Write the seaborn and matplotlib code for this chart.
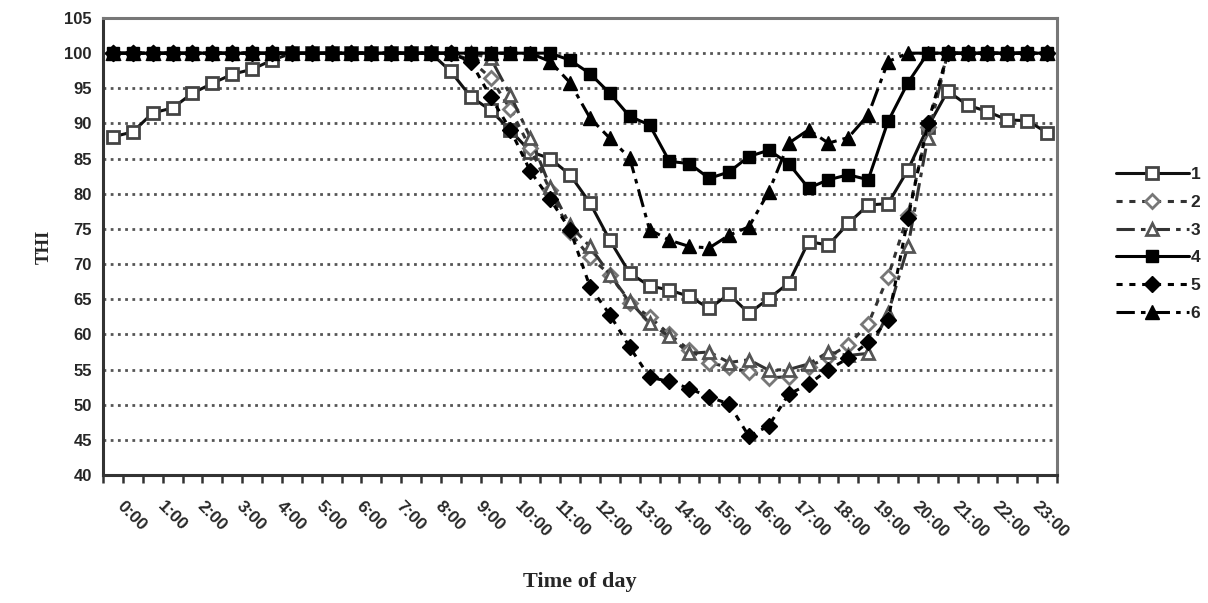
import numpy as np
import pandas as pd
import matplotlib
matplotlib.use("Agg")
import matplotlib.pyplot as plt
import matplotlib.transforms as mtransforms
from matplotlib.ticker import FixedLocator, NullFormatter
import seaborn as sns

# ---------------- data (half-hourly, 0:00 .. 23:30) ----------------
slots = [f"{h}:{m:02d}" for h in range(24) for m in (0, 30)]
hour_labels = [f"{h}:00" for h in range(24)]

s1 = [88.1, 88.8, 91.5, 92.2, 94.3, 95.7, 97.0, 97.7, 99.0, 100, 100, 100, 100, 100, 100, 100,
      100, 97.4, 93.8, 91.9, 89.0, 86.0, 85.0, 82.7, 78.7, 73.4, 68.7, 66.9, 66.3, 65.4, 63.7, 65.7,
      63.0, 65.1, 67.3, 73.2, 72.7, 75.8, 78.4, 78.6, 83.4, 89.5, 94.6, 92.6, 91.7, 90.5, 90.4, 88.7]
s2 = [100, 100, 100, 100, 100, 100, 100, 100, 100, 100, 100, 100, 100, 100, 100, 100,
      100, 100, 99.0, 96.5, 92.0, 86.5, 80.5, 74.5, 71.0, 68.5, 64.5, 62.5, 60.0, 57.8, 56.0, 55.3,
      54.7, 53.8, 54.0, 55.4, 56.8, 58.5, 61.5, 68.2, 77.0, 89.5, 100, 100, 100, 100, 100, 100]
s3 = [100, 100, 100, 100, 100, 100, 100, 100, 100, 100, 100, 100, 100, 100, 100, 100,
      100, 100, 100, 99.3, 94.0, 88.0, 81.0, 75.5, 72.5, 68.5, 64.7, 61.6, 59.7, 57.3, 57.5, 56.0,
      56.4, 54.9, 55.0, 55.8, 57.5, 57.0, 57.3, 63.0, 72.5, 88.0, 100, 100, 100, 100, 100, 100]
s4 = [100, 100, 100, 100, 100, 100, 100, 100, 100, 100, 100, 100, 100, 100, 100, 100,
      100, 100, 100, 100, 100, 100, 100, 99.0, 97.1, 94.3, 91.0, 89.8, 84.6, 84.3, 82.2, 83.1,
      85.3, 86.2, 84.3, 80.8, 82.0, 82.7, 82.0, 90.3, 95.8, 100, 100, 100, 100, 100, 100, 100]
s5 = [100, 100, 100, 100, 100, 100, 100, 100, 100, 100, 100, 100, 100, 100, 100, 100,
      100, 100, 98.8, 93.8, 89.1, 83.2, 79.2, 74.9, 66.8, 62.8, 58.2, 53.9, 53.3, 52.3, 51.1, 50.1,
      45.5, 47.0, 51.5, 52.9, 55.0, 56.6, 58.9, 62.0, 76.5, 90.0, 100, 100, 100, 100, 100, 100]
s6 = [100, 100, 100, 100, 100, 100, 100, 100, 100, 100, 100, 100, 100, 100, 100, 100,
      100, 100, 100, 100, 100, 100, 98.8, 95.8, 90.8, 87.9, 85.1, 74.9, 73.4, 72.5, 72.3, 74.1,
      75.3, 80.3, 87.2, 89.1, 87.2, 88.0, 91.2, 98.8, 100, 100, 100, 100, 100, 100, 100, 100]
series_names = ["1", "2", "3", "4", "5", "6"]
series_values = [s1, s2, s3, s4, s5, s6]

# ---------------- styling ----------------
sns.set_theme(style="white")
plt.rcParams["font.family"] = ["Liberation Sans", "DejaVu Sans"]

styles = {
    "1": dict(color="#111111", linestyle="-", marker="s", markersize=8.5,
              markerfacecolor="white", markeredgecolor="#444444", markeredgewidth=2.0),
    "2": dict(color="#333333", linestyle=(0, (2.0, 2.2)), marker="D", markersize=7,
              markerfacecolor="white", markeredgecolor="#777777", markeredgewidth=2.0),
    "3": dict(color="#333333", linestyle=(0, (6, 2, 1.5, 2)), marker="^", markersize=8.5,
              markerfacecolor="white", markeredgecolor="#555555", markeredgewidth=2.0),
    "4": dict(color="#000000", linestyle="-", marker="s", markersize=9,
              markerfacecolor="#000000", markeredgecolor="#000000", markeredgewidth=1.0),
    "5": dict(color="#000000", linestyle=(0, (2.0, 2.2)), marker="D", markersize=8,
              markerfacecolor="#000000", markeredgecolor="#000000", markeredgewidth=1.0),
    "6": dict(color="#000000", linestyle=(0, (6, 2, 1.5, 2)), marker="^", markersize=10,
              markerfacecolor="#000000", markeredgecolor="#000000", markeredgewidth=1.0),
}

fig = plt.figure(figsize=(12.08, 6.03), dpi=100)
ax = fig.add_axes([103 / 1208, 1 - 475 / 603, (1057 - 103) / 1208, (475 - 18) / 603])

idx = np.arange(len(slots))
for name, vals in zip(series_names, series_values):
    df = pd.DataFrame({"slot": idx, "THI": vals})
    sns.lineplot(data=df, x="slot", y="THI", ax=ax, label=name, linewidth=2.2,
                 sort=False, **styles[name])

# grid (dotted, only inside)
for v in range(45, 105, 5):
    ax.axhline(v, color="#555555", linestyle=(0, (1.0, 1.6)), linewidth=2.0, zorder=0.5)

ax.set_xlim(-0.5, len(slots) - 0.5)
ax.set_ylim(40, 105)
ax.set_yticks(range(40, 106, 5))
ax.tick_params(axis="y", which="major", direction="out", length=5, width=1.8,
               color="#333333", pad=3, labelsize=12)
for lab in ax.get_yticklabels():
    lab.set_fontweight("bold")

# x: labels every hour, tick marks at every slot boundary
ax.xaxis.set_major_locator(FixedLocator(idx[::2]))
ax.set_xticklabels(hour_labels, rotation=-45, rotation_mode="anchor",
                   ha="left", va="center", fontsize=12.5, fontweight="bold")
ax.xaxis.set_minor_locator(FixedLocator(np.arange(-0.5, len(slots), 1.0)))
ax.xaxis.set_minor_formatter(NullFormatter())
ax.tick_params(axis="x", which="major", length=0, pad=21)
ax.tick_params(axis="x", which="minor", direction="out", length=6, width=1.8,
               color="#333333", bottom=True)
offset = mtransforms.ScaledTranslation(7 / 100, 0, fig.dpi_scale_trans)
for lab in ax.get_xticklabels():
    lab.set_transform(lab.get_transform() + offset)

for side in ["left", "bottom"]:
    ax.spines[side].set_color("#333333")
    ax.spines[side].set_linewidth(2.2)
for side in ["top", "right"]:
    ax.spines[side].set_color("#777777")
    ax.spines[side].set_linewidth(2.2)

ax.set_xlabel("Time of day", fontsize=16, fontweight="bold",
              family=["Liberation Serif", "DejaVu Serif"])
ax.set_ylabel("THI", fontsize=13.5, fontweight="bold",
              family=["Liberation Serif", "DejaVu Serif"])
ax.xaxis.set_label_coords((580 - 103) / 954, (475 - 572) / 457)
ax.yaxis.set_label_coords((53 - 103) / 954, 0.50)

leg = ax.legend(loc="center left", bbox_to_anchor=(1116 / 1208, 1 - 244 / 603),
                bbox_transform=fig.transFigure, frameon=False, fontsize=12.5,
                handlelength=4.2, handletextpad=0.1, labelspacing=0.72,
                borderpad=0, borderaxespad=0, numpoints=1)
for t in leg.get_texts():
    t.set_fontweight("bold")

fig.savefig("out.png", dpi=100)
